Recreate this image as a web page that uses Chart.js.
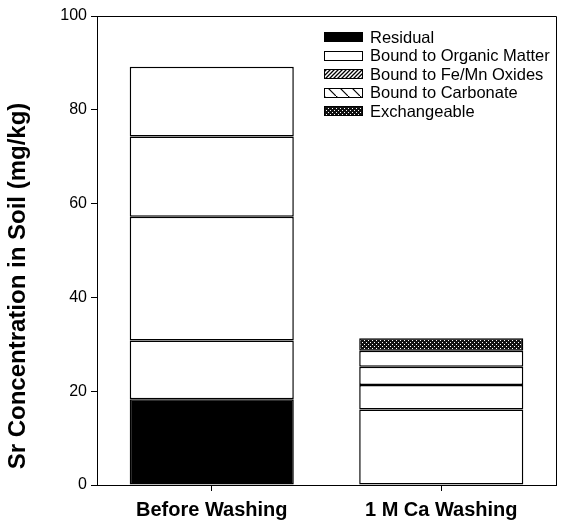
<!DOCTYPE html>
<html><head><meta charset="utf-8">
<script src="https://cdn.jsdelivr.net/npm/chart.js@4"></script>
<style>html,body{margin:0;padding:0;background:#fff}canvas{display:block}</style>
</head><body>
<canvas id="c" width="567" height="527"></canvas>
<script>
const categories = ['Before Washing', '1 M Ca Washing'];
const fractions = ['Residual', 'Bound to Organic Matter', 'Bound to Fe/Mn Oxides', 'Bound to Carbonate', 'Exchangeable'];
const residual = [18.3, 16.1];
const organic = [12.5, 5.2];
const feMn = [26.4, 3.9];
const carbonate = [17.1, 3.4];
const exchangeable = [14.9, 2.7];
const yTicks = [0, 20, 40, 60, 80, 100];
const yTitle = 'Sr Concentration in Soil (mg/kg)';

const FONT = '"Liberation Sans", Arial, sans-serif';

function tile(w, h, draw) {
  const c = document.createElement('canvas'); c.width = w; c.height = h;
  const x = c.getContext('2d'); draw(x, w, h);
  return document.getElementById('c').getContext('2d').createPattern(c, 'repeat');
}
const patFeMn = tile(4, 4, (x, w, h) => {
  x.fillStyle = '#fff'; x.fillRect(0, 0, w, h);
  x.strokeStyle = '#000'; x.lineWidth = 1.3;
  x.beginPath(); x.moveTo(-1, h + 1); x.lineTo(w + 1, -1);
  x.moveTo(-1, 1); x.lineTo(1, -1); x.moveTo(w - 1, h + 1); x.lineTo(w + 1, h - 1); x.stroke();
});
const patCarb = tile(12, 12, (x, w, h) => {
  x.fillStyle = '#fff'; x.fillRect(0, 0, w, h);
  x.strokeStyle = '#000'; x.lineWidth = 1.2;
  x.beginPath(); x.moveTo(-1, -1); x.lineTo(w + 1, h + 1); x.stroke();
});
const patExch = tile(4, 4, (x, w, h) => {
  x.fillStyle = '#111'; x.fillRect(0, 0, w, h);
  x.fillStyle = '#fff'; x.fillRect(0, 0, 1, 1); x.fillRect(2, 2, 1, 1);
});
const legendFills = ['#000', '#fff', patFeMn, patCarb, patExch];

const ds = (label, data, bg) => ({ label, data, backgroundColor: bg, borderColor: '#000', borderWidth: 1.5, borderSkipped: false, categoryPercentage: 1, barPercentage: 0.715 });

const framePlugin = {
  id: 'frame',
  afterDraw(chart) {
    const { ctx, chartArea: a } = chart;
    ctx.save();
    ctx.strokeStyle = '#000'; ctx.lineWidth = 1;
    ctx.beginPath();
    ctx.moveTo(a.left, a.top + 0.5); ctx.lineTo(a.right + 0.5, a.top + 0.5);
    ctx.lineTo(a.right + 0.5, a.bottom);
    ctx.stroke();
    // y-axis title
    ctx.save();
    ctx.translate(18, 286);
    ctx.rotate(-Math.PI / 2);
    ctx.font = 'bold 24px ' + FONT;
    ctx.textAlign = 'center'; ctx.textBaseline = 'middle';
    ctx.fillStyle = '#000';
    ctx.fillText(yTitle, 0, 0);
    ctx.restore();
    // legend
    ctx.font = '16.5px ' + FONT;
    ctx.textBaseline = 'middle'; ctx.textAlign = 'left';
    chart.data.datasets.forEach((d, i) => {
      const cy = 37 + i * 18.5;
      ctx.fillStyle = legendFills[i];
      ctx.fillRect(324, Math.round(cy - 5), 39, 10);
      ctx.strokeRect(324.5, Math.round(cy - 5) + 0.5, 38, 9);
      ctx.fillStyle = '#000';
      ctx.fillText(d.label, 370, cy + 1);
    });
    ctx.restore();
  }
};

new Chart(document.getElementById('c'), {
  type: 'bar',
  data: {
    labels: categories,
    datasets: [
      ds(fractions[0], residual, ['#000', '#fff']),
      ds(fractions[1], organic, '#fff'),
      ds(fractions[2], feMn, '#fff'),
      ds(fractions[3], carbonate, '#fff'),
      ds(fractions[4], exchangeable, ['#fff', patExch])
    ]
  },
  options: {
    responsive: false, animation: false,
    layout: { padding: { top: 16, right: 11, left: 0, bottom: 0 } },
    plugins: { legend: { display: false }, tooltip: { enabled: false } },
    scales: {
      x: {
        stacked: true,
        grid: { offset: false, drawOnChartArea: false, drawTicks: true, tickLength: 6, color: '#000' },
        border: { color: '#000', width: 1 },
        ticks: { color: '#000', padding: 7, font: { family: FONT, size: 20, weight: 'bold' } },
        afterFit(s) { s.height = 42; }
      },
      y: {
        stacked: true, min: 0, max: 100,
        afterBuildTicks(s) { s.ticks = yTicks.map(v => ({ value: v })); },
        grid: { drawOnChartArea: false, drawTicks: true, tickLength: 6, color: '#000' },
        border: { color: '#000', width: 1 },
        ticks: { color: '#000', padding: 4, font: { family: FONT, size: 16 } },
        title: { display: false },
        afterFit(s) { s.width = 97; }
      }
    }
  },
  plugins: [framePlugin]
});
</script>
</body></html>
